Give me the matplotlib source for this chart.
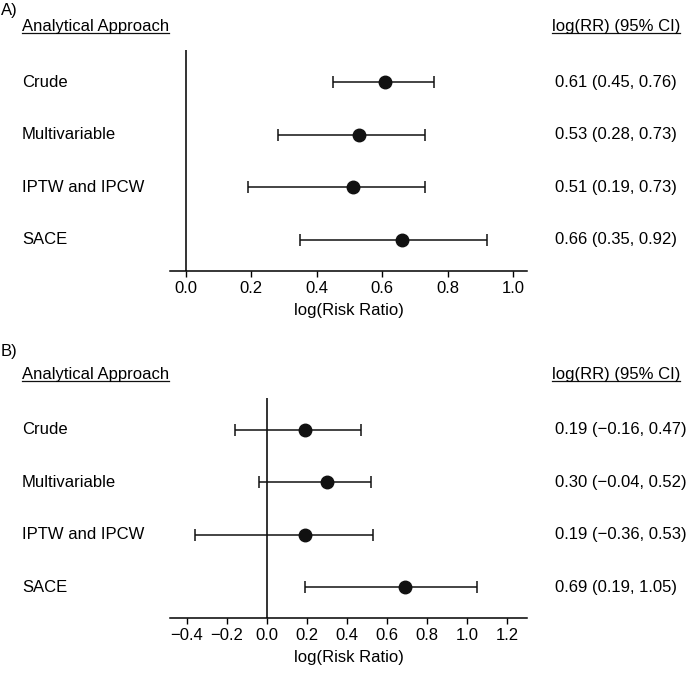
import matplotlib.pyplot as plt
from matplotlib.lines import Line2D

plt.rcParams['font.family'] = ['Liberation Sans', 'DejaVu Sans']
plt.rcParams['font.size'] = 12

# data
approaches = ['Crude', 'Multivariable', 'IPTW and IPCW', 'SACE']

est_a = [0.61, 0.53, 0.51, 0.66]
lo_a = [0.45, 0.28, 0.19, 0.35]
hi_a = [0.76, 0.73, 0.73, 0.92]

est_b = [0.19, 0.30, 0.19, 0.69]
lo_b = [-0.16, -0.04, -0.36, 0.19]
hi_b = [0.47, 0.52, 0.53, 1.05]

ticks_a = [0.0, 0.2, 0.4, 0.6, 0.8, 1.0]
ticks_b = [-0.4, -0.2, 0.0, 0.2, 0.4, 0.6, 0.8, 1.0, 1.2]

W, H = 687, 675
fig = plt.figure(figsize=(W / 100, H / 100), dpi=100)


def fmt(v):
    return f'{v:.2f}'.replace('-', '\u2212')


def panel(tag, est, lo, hi, ticks, xlim, top_px, bot_px, head_px, tag_px):
    ax = fig.add_axes([170 / W, 1 - bot_px / H, 357 / W, (bot_px - top_px) / H])
    ys = [4, 3, 2, 1]
    for y, e, l, h in zip(ys, est, lo, hi):
        ax.errorbar(e, y, xerr=[[e - l], [h - e]], fmt='o', color='#111111',
                    ms=9, capsize=4, elinewidth=1.1, capthick=1.1)
    ax.axvline(0, color='#111111', lw=1.2)
    ax.set_xlim(xlim)
    ax.set_ylim(0.41, 4.61)
    ax.set_xticks(ticks)
    ax.set_xticklabels([f'{t:.1f}'.replace('-', '\u2212') for t in ticks])
    ax.set_yticks([])
    for s in ['top', 'right', 'left']:
        ax.spines[s].set_visible(False)
    ax.spines['bottom'].set_linewidth(1.1)
    ax.tick_params(axis='x', length=4, width=1, pad=3, labelsize=12)
    ax.set_xlabel('log(Risk Ratio)', fontsize=12, labelpad=5)

    # row labels and estimates
    for y, name, e, l, h in zip(ys, approaches, est, lo, hi):
        yy = ax.transData.transform((0, y))[1] / H
        fig.text(22 / W, yy, name, va='center', ha='left')
        fig.text(555 / W, yy, f'{fmt(e)} ({fmt(l)}, {fmt(h)})', va='center', ha='left')

    fig.text(1 / W, 1 - tag_px / H, tag, va='center', ha='left')
    t1 = fig.text(22 / W, 1 - head_px / H, 'Analytical Approach', va='center', ha='left')
    t2 = fig.text(552 / W, 1 - head_px / H, 'log(RR) (95% CI)', va='center', ha='left')
    return [t1, t2]


heads = panel('A)', est_a, lo_a, hi_a, ticks_a, (-0.049, 1.043), 50, 271, 26, 10)
heads += panel('B)', est_b, lo_b, hi_b, ticks_b, (-0.485, 1.3), 398, 618, 374, 352)

# underline headers
fig.canvas.draw()
r = fig.canvas.get_renderer()
for t in heads:
    bb = t.get_window_extent(r)
    y = (bb.y0 + 1) / H
    fig.add_artist(Line2D([bb.x0 / W, bb.x1 / W], [y, y], color='#111111', lw=0.9))

fig.savefig('out.png', dpi=100)
